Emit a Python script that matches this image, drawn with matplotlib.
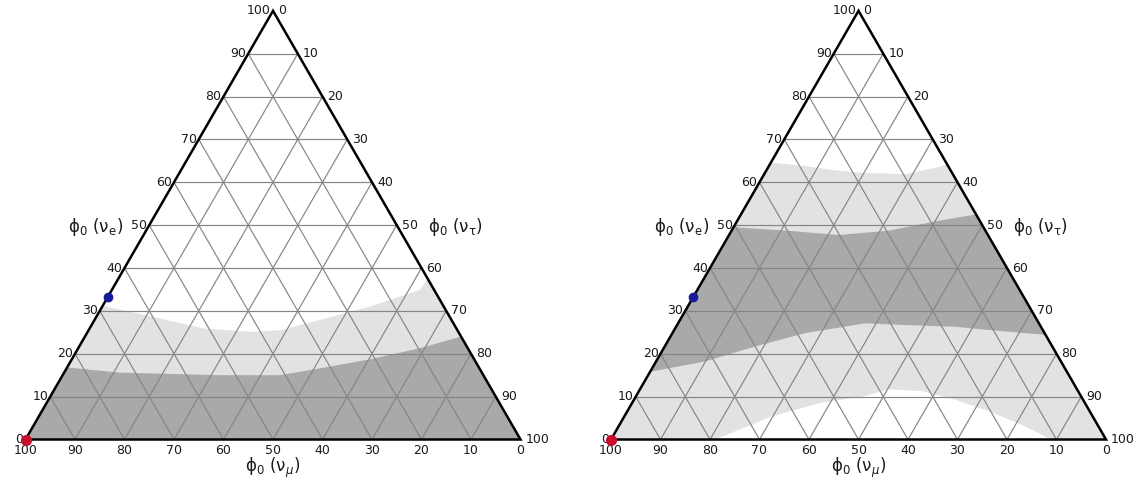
import matplotlib.pyplot as plt
import numpy as np

H = np.sqrt(3) / 2

ticks = list(range(0, 101, 10))
title_e = r'$\mathrm{\phi}_0\ (\mathrm{\nu}_\mathrm{e})$'
title_tau = r'$\mathrm{\phi}_0\ (\mathrm{\nu}_\mathrm{\tau})$'
title_mu = r'$\mathrm{\phi}_0\ (\mathrm{\nu}_\mu)$'

# flavour points as (nu_e, nu_tau) percentages
point_red = (0.0, 0.0)
point_blue = (33.3, 0.0)

# region boundaries: r = tau / (mu + tau) along the curve, e = nu_e percent
left_light_r = [0.0, 0.161, 0.310, 0.447, 0.519, 0.632, 0.784, 0.956, 1.0]
left_light_e = [31.2, 28.6, 25.9, 25.1, 25.5, 27.9, 31.0, 34.9, 37.5]
left_dark_r = [0.0, 0.134, 0.374, 0.516, 0.614, 0.741, 0.877, 1.0]
left_dark_e = [16.8, 15.6, 15.0, 15.0, 16.6, 18.7, 21.3, 24.0]

right_light_r = [0.0, 0.202, 0.366, 0.534, 0.747, 0.941, 1.0]
right_light_e = [64.6, 63.8, 62.8, 62.2, 61.9, 63.5, 64.2]
right_dark_top_r = [0.0, 0.223, 0.422, 0.617, 0.829, 1.0]
right_dark_top_e = [49.5, 48.7, 47.7, 48.7, 51.0, 52.5]
right_dark_bot_r = [0.0, 0.121, 0.233, 0.356, 0.518, 0.628, 0.765, 0.896, 1.0]
right_dark_bot_e = [15.8, 18.2, 21.7, 24.8, 27.1, 26.7, 26.3, 25.2, 24.4]
right_white_r = [0.21, 0.315, 0.419, 0.514, 0.568, 0.644, 0.715, 0.781, 0.842, 0.89]
right_white_e = [0.0, 5.4, 8.6, 10.1, 11.7, 11.3, 9.3, 6.6, 3.4, 0.0]

LIGHT = '#e2e2e2'
DARK = '#a9a9a9'
GRID = '#858585'
TXT = '#1a1a1a'


def xy(e, tau):
    return tau + e / 2, e * H


def curve(r, e):
    r = np.asarray(r)
    e = np.asarray(e)
    return xy(e, r * (100 - e))


def fill_below(ax, r, e, color):
    x, y = curve(r, e)
    x = np.concatenate([x, [100, 0]])
    y = np.concatenate([y, [0, 0]])
    ax.fill(x, y, color=color, lw=0, zorder=1)


def fill_between(ax, r1, e1, r2, e2, color):
    x1, y1 = curve(r1, e1)
    x2, y2 = curve(r2, e2)
    ax.fill(np.concatenate([x1, x2[::-1]]), np.concatenate([y1, y2[::-1]]),
            color=color, lw=0, zorder=1)


def frame(ax):
    for k in ticks[1:-1]:
        # constant nu_e, nu_tau and nu_mu lines
        for a, b in [((k, 0), (k, 100 - k)),
                     ((0, k), (100 - k, k)),
                     ((0, 100 - k), (100 - k, 0))]:
            xa, ya = xy(*a)
            xb, yb = xy(*b)
            ax.plot([xa, xb], [ya, yb], color=GRID, lw=0.85, zorder=2)
    tx, ty = xy(np.array([0, 100, 0, 0]), np.array([0, 0, 100, 0]))
    ax.plot(tx, ty, color='black', lw=1.8, zorder=3, solid_joinstyle='miter',
            clip_on=False)

    kw = dict(textcoords='offset pixels', fontsize=9, color=TXT,
              annotation_clip=False)
    for k in ticks:
        ax.annotate(str(k), xy(k, 0), xytext=(-2, 0), ha='right', va='center', **kw)
        ax.annotate(str(k), xy(100 - k, k), xytext=(5, 0), ha='left', va='center', **kw)
        ax.annotate(str(k), xy(0, 100 - k), xytext=(0, -5), ha='center', va='top', **kw)

    kt = dict(textcoords='offset pixels', fontsize=12, color=TXT,
              annotation_clip=False, va='center')
    ax.annotate(title_e, xy(50, 0), xytext=(-26, -2), ha='right', **kt)
    ax.annotate(title_tau, xy(50, 50), xytext=(31, -2), ha='left', **kt)
    ax.annotate(title_mu, xy(0, 50), xytext=(0, -28), ha='center', **kt)

    ax.plot(*xy(*point_red), 'o', color='#c8102e', ms=7, zorder=5, clip_on=False)
    ax.plot(*xy(*point_blue), 'o', color='#1a1a9c', ms=6, zorder=5, clip_on=False)

    ax.set_xlim(0, 100)
    ax.set_ylim(0, 100 * H)
    ax.axis('off')


fig = plt.figure(figsize=(11.47, 4.87), dpi=100)
W, Hf = 1147, 487
ax1 = fig.add_axes([25.5 / W, (Hf - 439.5) / Hf, 495 / W, 428.7 / Hf])
ax2 = fig.add_axes([611 / W, (Hf - 439.5) / Hf, 495 / W, 428.7 / Hf])

fill_below(ax1, left_light_r, left_light_e, LIGHT)
fill_below(ax1, left_dark_r, left_dark_e, DARK)
frame(ax1)

fill_below(ax2, right_light_r, right_light_e, LIGHT)
fill_between(ax2, right_dark_top_r, right_dark_top_e,
             right_dark_bot_r, right_dark_bot_e, DARK)
wx, wy = curve(right_white_r, right_white_e)
ax2.fill(wx, wy, color='white', lw=0, zorder=1)
frame(ax2)

fig.savefig('out.png', dpi=100)
